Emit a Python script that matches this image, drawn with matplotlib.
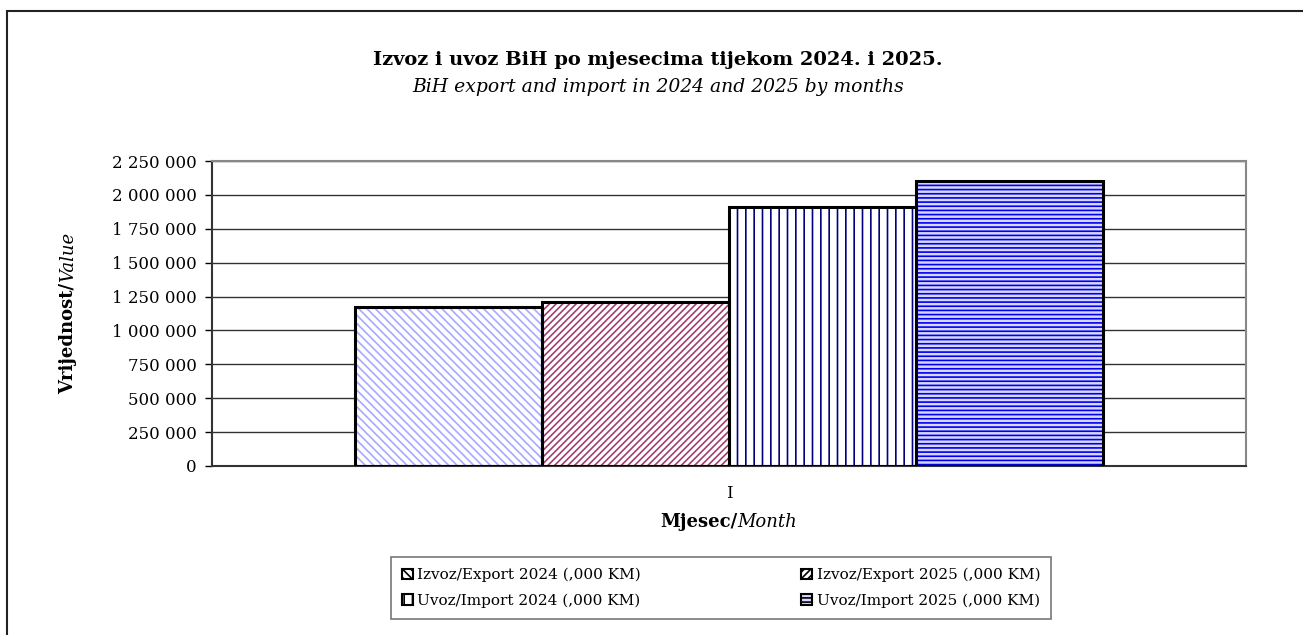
import matplotlib
matplotlib.use("Agg")
import matplotlib.pyplot as plt
from matplotlib.patches import Rectangle
from matplotlib.ticker import FuncFormatter
import numpy as np

categories = ["I"]
series_names = ["Izvoz/Export 2024 (,000 KM)", "Izvoz/Export 2025 (,000 KM)",
                "Uvoz/Import 2024 (,000 KM)", "Uvoz/Import 2025 (,000 KM)"]
export_2024 = [1175000]
export_2025 = [1212000]
import_2024 = [1908000]
import_2025 = [2100000]
yticks = [0, 250000, 500000, 750000, 1000000, 1250000, 1500000, 1750000, 2000000, 2250000]

plt.rcParams['font.family'] = ['DejaVu Serif']
plt.rcParams['hatch.linewidth'] = 1.2

W, H = 1303, 635
fig = plt.figure(figsize=(W / 100, H / 100), dpi=100)

def px(x0, y0, x1, y1):
    return [x0 / W, 1 - y1 / H, (x1 - x0) / W, (y1 - y0) / H]

ax = fig.add_axes(px(212, 161, 1246, 466))

series = [export_2024, export_2025, import_2024, import_2025]
styles = [
    dict(hatch='\\\\\\\\', edgecolor='#A8A8FF', face='white'),
    dict(hatch='/////', edgecolor='#A04070', face='white'),
    dict(hatch='||', edgecolor='#000080', face='white'),
    dict(hatch='----', edgecolor='#0000EE', face='#D8D8FF'),
]
x = np.arange(len(categories))
bw = 0.181
handles = []
for i, (vals, st) in enumerate(zip(series, styles)):
    off = (i - 1.5) * bw
    b = ax.bar(x + off, vals, bw, facecolor=st['face'], edgecolor=st['edgecolor'],
               hatch=st['hatch'], linewidth=0, zorder=2)
    ax.bar(x + off, vals, bw, facecolor='none', edgecolor='black', linewidth=2.2, zorder=3)
    handles.append(b)

ax.set_xlim(-0.5, 0.5)
ax.set_ylim(0, 2250000)
ax.set_yticks(yticks)
ax.yaxis.set_major_formatter(FuncFormatter(lambda v, p: f"{int(v):,}".replace(",", " ")))
ax.set_xticks(x)
ax.set_xticklabels(categories)
ax.tick_params(axis='y', direction='out', length=5, width=1, labelsize=12, colors='black', pad=6)
ax.tick_params(axis='x', length=0, labelsize=12, pad=14)
ax.grid(axis='y', color='#333333', linewidth=1, zorder=0)
ax.set_axisbelow(True)
for s in ['top', 'right']:
    ax.spines[s].set_color('#888888')
    ax.spines[s].set_linewidth(1.5)
for s in ['left', 'bottom']:
    ax.spines[s].set_color('#333333')
    ax.spines[s].set_linewidth(1.5)

# outer frame
fig.patches.append(Rectangle((7 / W, -0.1), 1.2, 1 - 11 / H + 0.1, transform=fig.transFigure,
                             fill=False, edgecolor='#222222', linewidth=1.5))

fig.text(658 / W, 1 - 60 / H, "Izvoz i uvoz BiH po mjesecima tijekom 2024. i 2025.",
         ha='center', va='center', fontsize=14, fontweight='bold')
fig.text(658 / W, 1 - 87 / H, "BiH export and import in 2024 and 2025 by months",
         ha='center', va='center', fontsize=13.5, style='italic')

fig.canvas.draw()
r = fig.canvas.get_renderer()

# x-axis title: mixed bold / italic
t1 = fig.text(0, 1 - 522 / H, "Mjesec/", ha='left', va='center', fontsize=13, fontweight='bold')
t2 = fig.text(0, 1 - 522 / H, "Month", ha='left', va='center', fontsize=13, style='italic')
w1 = t1.get_window_extent(r).width
w2 = t2.get_window_extent(r).width
start = 729 - (w1 + w2) / 2
t1.set_x(start / W)
t2.set_x((start + w1) / W)

# y-axis title rotated
y1 = fig.text(68 / W, 0, "Vrijednost/", ha='center', va='bottom', rotation=90, fontsize=13, fontweight='bold')
y2 = fig.text(68 / W, 0, "Value", ha='center', va='bottom', rotation=90, fontsize=13, style='italic')
h1 = y1.get_window_extent(r).height
h2 = y2.get_window_extent(r).height
ystart = (H - 313) - (h1 + h2) / 2
y1.set_y(ystart / H)
y2.set_y((ystart + h1) / H)

# legend: row-wise order (matplotlib fills columns first)
order = [0, 2, 1, 3]
leg = fig.legend([handles[i] for i in order], [series_names[i] for i in order],
                 loc='center', bbox_to_anchor=(721 / W, 1 - 588 / H),
                 ncol=2, frameon=True, fancybox=False, edgecolor='#555555', fontsize=11,
                 handlelength=0.7, handleheight=0.7, handletextpad=0.3, columnspacing=10.5,
                 borderpad=0.7, labelspacing=0.75, borderaxespad=0)
leg.get_frame().set_linewidth(1.2)
for p in leg.get_patches():
    p.set_edgecolor('black')
    p.set_linewidth(1.5)

fig.savefig("out.png", dpi=100)
